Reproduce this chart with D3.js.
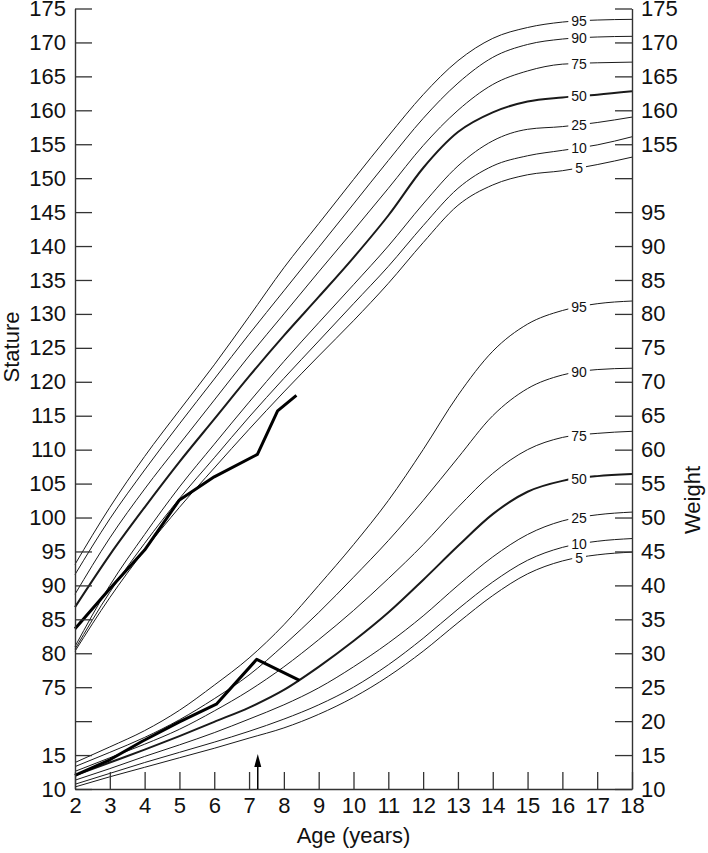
<!DOCTYPE html>
<html><head><meta charset="utf-8">
<script src="https://cdn.jsdelivr.net/npm/d3@7/dist/d3.min.js"></script>
<style>
body{margin:0;background:#fff}
svg{display:block}
text{font-family:"Liberation Sans",Arial,sans-serif;fill:#111}
</style>
</head><body><svg id="c" width="708" height="853"></svg>
<script>
// ---- data ----
const ages = [2,3,4,5,6,7,8,9,10,11,12,13,14,15,16,17,18];
const percentiles = ["95","90","75","50","25","10","5"];
// stature (cm)
const stature95 = [93.1,101.5,109.0,115.8,122.5,129.6,136.8,143.3,149.8,156.2,162.3,167.3,170.6,172.2,173.0,173.3,173.4];
const stature90 = [91.6,99.8,107.0,113.8,120.4,127.0,133.4,139.8,146.2,152.6,158.8,164.0,167.8,169.7,170.5,170.8,170.9];
const stature75 = [88.7,97.0,104.2,110.8,117.3,123.8,130.0,136.2,142.3,148.5,154.8,160.0,163.8,165.8,166.8,167.0,167.1];
const stature50 = [86.8,94.5,101.5,108.2,114.5,120.8,126.8,132.5,138.3,144.5,151.5,156.8,159.7,161.3,161.9,162.3,162.8];
const stature25 = [81.0,90.0,97.5,104.5,110.8,117.0,123.0,128.7,134.3,140.0,146.2,151.8,155.5,157.2,157.6,158.2,159.0];
const stature10 = [80.6,89.0,96.2,102.8,108.8,114.8,120.5,126.0,131.5,137.0,143.0,148.5,151.8,153.3,154.1,154.9,156.1];
const stature5  = [80.3,88.2,95.2,101.5,107.3,113.0,118.5,123.8,129.0,134.5,140.5,146.0,149.0,150.5,151.1,152.0,153.1];
// weight (kg)
const weight95 = [13.9,16.2,18.6,21.6,25.3,29.3,34.2,40.0,46.0,52.5,60.0,68.0,74.5,78.5,80.5,81.5,81.9];
const weight90 = [13.3,15.4,17.6,20.2,23.3,26.8,31.2,36.0,41.2,46.6,52.5,58.8,65.0,69.0,71.0,71.8,72.0];
const weight75 = [12.6,14.6,16.6,18.8,21.5,24.5,28.0,32.0,36.3,41.0,46.0,51.5,56.5,60.0,61.8,62.4,62.7];
const weight50 = [12.0,13.9,15.8,17.8,19.9,22.0,24.6,28.0,31.8,36.0,40.8,45.8,50.5,53.8,55.4,56.1,56.4];
const weight25 = [11.3,13.0,14.8,16.5,18.3,20.3,22.4,24.9,28.0,31.5,35.5,40.0,44.2,47.5,49.5,50.4,50.8];
const weight10 = [10.7,12.3,13.9,15.4,16.9,18.5,20.3,22.4,25.0,28.3,32.2,36.5,40.5,43.7,45.6,46.5,46.9];
const weight5  = [10.3,11.8,13.2,14.6,16.0,17.5,19.0,21.0,23.5,26.6,30.3,34.5,38.5,41.7,43.6,44.5,44.9];
// patient
const patientStatureAges = [2,3,4,5,6,7.24,7.82,8.36];
const patientStature     = [83.6,89.5,95.2,102.6,106.0,109.3,115.7,118.0];
const patientWeightAges  = [2,3,3.92,5,6.06,7.22,8.45];
const patientWeight      = [12.0,14.3,17.0,19.9,22.5,29.1,26.0];
const arrowAge = 7.25;
const labelAge = 16.48;
// axis ticks (stature units share the pixel scale; weight = stature - 50)
const yTicks = [175,170,165,160,155,150,145,140,135,130,125,120,115,110,105,100,95,90,85,80,75,70,65,60];
const leftTickLabels  = ["175","170","165","160","155","150","145","140","135","130","125","120","115","110","105","100","95","90","85","80","75","","15","10"];
const rightTickLabels = ["175","170","165","160","155","","95","90","85","80","75","70","65","60","55","50","45","40","35","30","25","20","15","10"];
const ageTicks = [2,3,4,5,6,7,8,9,10,11,12,13,14,15,16,17,18];

// ---- drawing ----
const svg = d3.select("#c");
svg.append("rect").attr("width",708).attr("height",853).attr("fill","#fff");
const x  = d3.scaleLinear().domain([2,18]).range([75,632]);
const yS = d3.scaleLinear().domain([60,175]).range([789,8.5]);
const yW = d3.scaleLinear().domain([10,125]).range([789,8.5]);

const statureSets = [stature95,stature90,stature75,stature50,stature25,stature10,stature5];
const weightSets  = [weight95,weight90,weight75,weight50,weight25,weight10,weight5];

function curve(vals, yScale){
  return d3.line().x((d,i)=>x(ages[i])).y(d=>yScale(d)).curve(d3.curveMonotoneX)(vals);
}
const gCurves = svg.append("g");
statureSets.forEach((s,k)=>{
  gCurves.append("path").attr("d",curve(s,yS)).attr("fill","none")
    .attr("stroke","#1a1a1a").attr("stroke-width",percentiles[k]==="50"?2:1);
});
weightSets.forEach((s,k)=>{
  gCurves.append("path").attr("d",curve(s,yW)).attr("fill","none")
    .attr("stroke","#1a1a1a").attr("stroke-width",percentiles[k]==="50"?2:1);
});

// labels on curves
function valAt(vals, a){
  const i = d3.bisectRight(ages,a)-1;
  const t = (a-ages[i])/(ages[i+1]-ages[i]);
  return vals[i]+(vals[i+1]-vals[i])*t;
}
const gLab = svg.append("g");
function addLabel(txt, yy){
  const g = gLab.append("g").attr("transform",`translate(${x(labelAge)},${yy})`);
  const t = g.append("text").text(txt).attr("text-anchor","middle")
    .attr("dy","0.36em").attr("font-size",14);
  const w = t.node().getComputedTextLength();
  g.insert("rect","text").attr("x",-w/2-3).attr("y",-6).attr("width",w+6).attr("height",12).attr("fill","#fff");
}
statureSets.forEach((s,k)=>addLabel(percentiles[k], yS(valAt(s,labelAge))));
weightSets.forEach((s,k)=>addLabel(percentiles[k], yW(valAt(s,labelAge))));

// patient lines
const pLineS = d3.line().x((d,i)=>x(patientStatureAges[i])).y(d=>yS(d));
const pLineW = d3.line().x((d,i)=>x(patientWeightAges[i])).y(d=>yW(d));
svg.append("path").attr("d",pLineS(patientStature)).attr("fill","none").attr("stroke","#000").attr("stroke-width",3).attr("stroke-linejoin","round");
svg.append("path").attr("d",pLineW(patientWeight)).attr("fill","none").attr("stroke","#000").attr("stroke-width",3).attr("stroke-linejoin","round");

// axes
const fs = 22;
const left = d3.axisLeft(yS).tickValues(yTicks).tickSizeInner(-17).tickSizeOuter(0).tickPadding(9)
  .tickFormat((d,i)=>leftTickLabels[i]);
const right = d3.axisRight(yS).tickValues(yTicks).tickSizeInner(-17).tickSizeOuter(0).tickPadding(9)
  .tickFormat((d,i)=>rightTickLabels[i]);
const bottom = d3.axisBottom(x).tickValues(ageTicks).tickSizeInner(-17).tickSizeOuter(0).tickPadding(8.5)
  .tickFormat(d=>String(d));
function style(g){
  g.attr("font-family",null).attr("font-size",null);
  g.selectAll("path.domain").attr("stroke","#333").attr("stroke-width",1.4);
  g.selectAll(".tick line").attr("stroke","#333").attr("stroke-width",1.3);
  g.selectAll(".tick text").attr("font-size",fs).attr("fill","#111");
}
svg.append("g").attr("transform","translate(75,0)").call(left).call(style);
svg.append("g").attr("transform","translate(632,0)").call(right).call(style);
svg.append("g").attr("transform","translate(0,789)").call(bottom).call(style);

// arrow
const ax = x(arrowAge);
svg.append("line").attr("x1",ax).attr("x2",ax).attr("y1",789).attr("y2",764).attr("stroke","#000").attr("stroke-width",1.5);
svg.append("path").attr("d",`M${ax},754 L${ax-3.5},767 L${ax+3.5},767 Z`).attr("fill","#000");

// titles
svg.append("text").attr("transform","translate(19,347) rotate(-90)").attr("text-anchor","middle")
  .attr("font-size",fs).text("Stature");
svg.append("text").attr("transform","translate(700,500) rotate(-90)").attr("text-anchor","middle")
  .attr("font-size",fs).text("Weight");
svg.append("text").attr("x",(75+632)/2).attr("y",843).attr("text-anchor","middle")
  .attr("font-size",fs).text("Age (years)");
</script>
</body></html>
